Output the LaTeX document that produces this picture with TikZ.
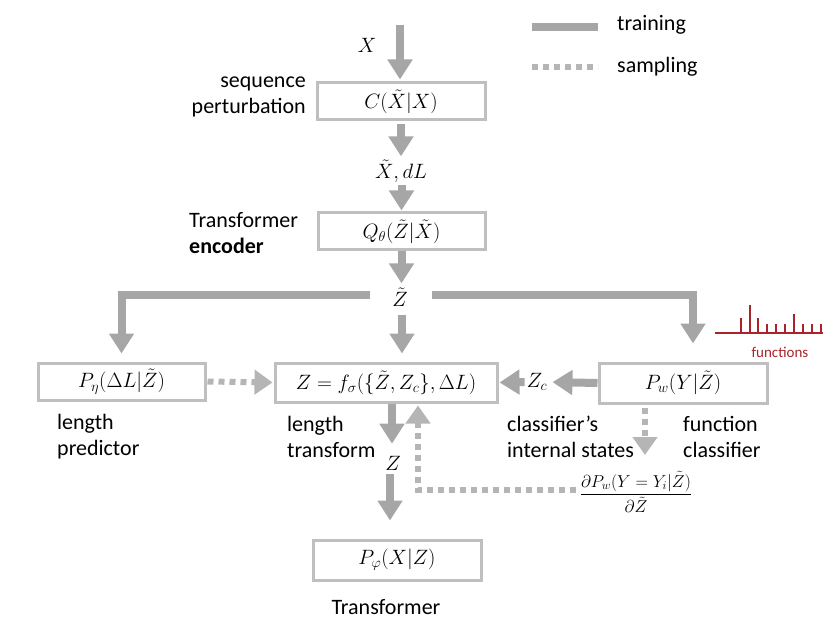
\documentclass[tikz,border=0pt]{standalone}
\usepackage{amsmath}
\usepackage{fontspec}
\setmainfont{Carlito}
\usetikzlibrary{arrows.meta}
\definecolor{arr}{HTML}{A6A6A6}
\definecolor{bx}{HTML}{BFBFBF}
\definecolor{dotc}{HTML}{B5B5B5}
\definecolor{fred}{HTML}{A8232B}
\begin{document}
\begin{tikzpicture}[x=1pt,y=-1pt,
  box/.style={draw=bx,line width=3pt,fill=white,inner sep=0pt},
  tr/.style={draw=arr,line width=8pt,-{Triangle[width=24pt,length=20pt]}},
  sm/.style={draw=dotc,line width=6pt,dash pattern=on 6pt off 5pt,-{Triangle[width=24pt,length=18pt]}},
  lbl/.style={font=\fontsize{22}{26}\selectfont,inner sep=0pt},
  mth/.style={font=\fontsize{21}{25}\selectfont,inner sep=0pt}]
\useasboundingbox (0,0) rectangle (823,623);

% boxes
\node[box,mth,minimum width=168pt,minimum height=37pt] (c) at (401,101.5) {$C(\tilde{X}|X)$};
\node[box,mth,minimum width=167pt,minimum height=37pt] (q) at (401.5,231.5) {$Q_\theta(\tilde{Z}|\tilde{X})$};
\node[box,mth,minimum width=167pt,minimum height=37pt] (pe) at (121.5,381.5) {$P_\eta(\Delta L|\tilde{Z})$};
\node[box,mth,minimum width=222pt,minimum height=39pt] (zb) at (386,382.5) {$Z=f_\sigma(\{\tilde{Z},Z_c\},\Delta L)$};
\node[box,mth,minimum width=168pt,minimum height=40pt] (pw) at (683,383) {$P_w(Y|\tilde{Z})$};
\node[box,mth,minimum width=168pt,minimum height=40pt] (pp) at (397,560) {$P_\varphi(X|Z)$};

% math labels
\node[mth] (xl) at (367,45) {$X$};
\node[mth] (xd) at (401,171) {$\tilde{X},dL$};
\node[mth] (zt) at (400,297) {$\tilde{Z}$};
\node[mth] (zc) at (537,382) {$Z_c$};
\node[mth] (zl) at (393,463) {$Z$};
\node[font=\fontsize{17}{20}\selectfont,inner sep=0pt] (frac) at (636,492) {$\dfrac{\partial P_w(Y=Y_i|\tilde{Z})}{\partial\tilde{Z}}$};

% text labels
\node[lbl,align=right,anchor=east] (t1) at (306,97) {sequence\\perturbation};
\node[lbl,align=left,anchor=west] (t2) at (189,233) {Transformer\\\textbf{encoder}};
\node[lbl,align=left,anchor=west] (t3) at (57,437) {length\\predictor};
\node[lbl,align=left,anchor=west] (t4) at (287,437) {length\\transform};
\node[lbl,align=left,anchor=west] (t5) at (507,437) {classifier’s\\internal states};
\node[lbl,align=left,anchor=west] (t6) at (683,437) {function\\classifier};
\node[lbl] (t7) at (386,607) {Transformer};

% training arrows
\coordinate (xin) at (400,25);
\draw[tr,shorten >=2pt] (xin) -- (xin |- c.north);
\draw[tr,shorten <=3pt,shorten >=3pt] (c.south) -- (c.south |- xd.north);
\draw[tr,shorten <=2pt,shorten >=1pt] (q.north |- xd.south) -- (q.north);
\draw[tr,shorten >=4pt] (q.south) -- (q.south |- zt.north);
\draw[tr,shorten <=8pt,shorten >=8pt] ([xshift=2pt]zt.south) -- ([xshift=2pt]zt.south |- zb.north);
\draw[tr,shorten >=8pt] ([xshift=-22pt,yshift=2pt]zt.west) -| (pe.north);
\draw[tr,shorten >=18pt] ([xshift=24pt,yshift=2pt]zt.east) -| ([xshift=10pt]pw.north);
\draw[tr,shorten >=5pt] (pw.west) -- (zc.east);
\draw[tr,shorten <=2pt,shorten >=1pt] (zc.west) -- (zb.east);
\draw[tr,shorten >=12pt] ([xshift=6pt]zb.south) -- ([xshift=-1pt]zl.north);
\draw[tr,shorten <=4pt,shorten >=18pt] ([xshift=-3pt]zl.south) -- ([xshift=-3pt]zl.south |- pp.north);

% sampling arrows
\draw[sm,shorten <=1pt,shorten >=1pt] (pe.east) -- (zb.west);
\coordinate (pwd) at (645,455);
\draw[sm,shorten <=3pt] (pwd |- pw.south) -- (pwd);
\coordinate (fc) at (418,490);
\draw[sm,shorten <=4pt,shorten >=2pt] (frac.west |- fc) -- (fc) -- (fc |- zb.south);

% legend
\coordinate (la) at (532,27);
\coordinate (lb) at (598,27);
\coordinate (lc) at (532,67);
\coordinate (ld) at (598,67);
\draw[draw=arr,line width=8pt] (la) -- (lb);
\draw[draw=dotc,line width=6pt,dash pattern=on 6pt off 5pt] (lc) -- (ld);
\node[lbl,anchor=west] (lt) at (617,25) {training};
\node[lbl,anchor=west] (ls) at (617,67) {sampling};

% functions spectrum
\draw[fred,line width=1.3pt] (715,333) -- (823,333);
\foreach \x/\t in {741/318,750/305,758/318,767/324,776/324,785/324,794/314,803/324,812/324,821/324}
  \draw[fred,line width=1.3pt] (\x,333) -- (\x,\t);
\node[font=\fontsize{15}{18}\selectfont,text=fred,inner sep=0pt] (fn) at (780,352) {functions};
\end{tikzpicture}
\end{document}
